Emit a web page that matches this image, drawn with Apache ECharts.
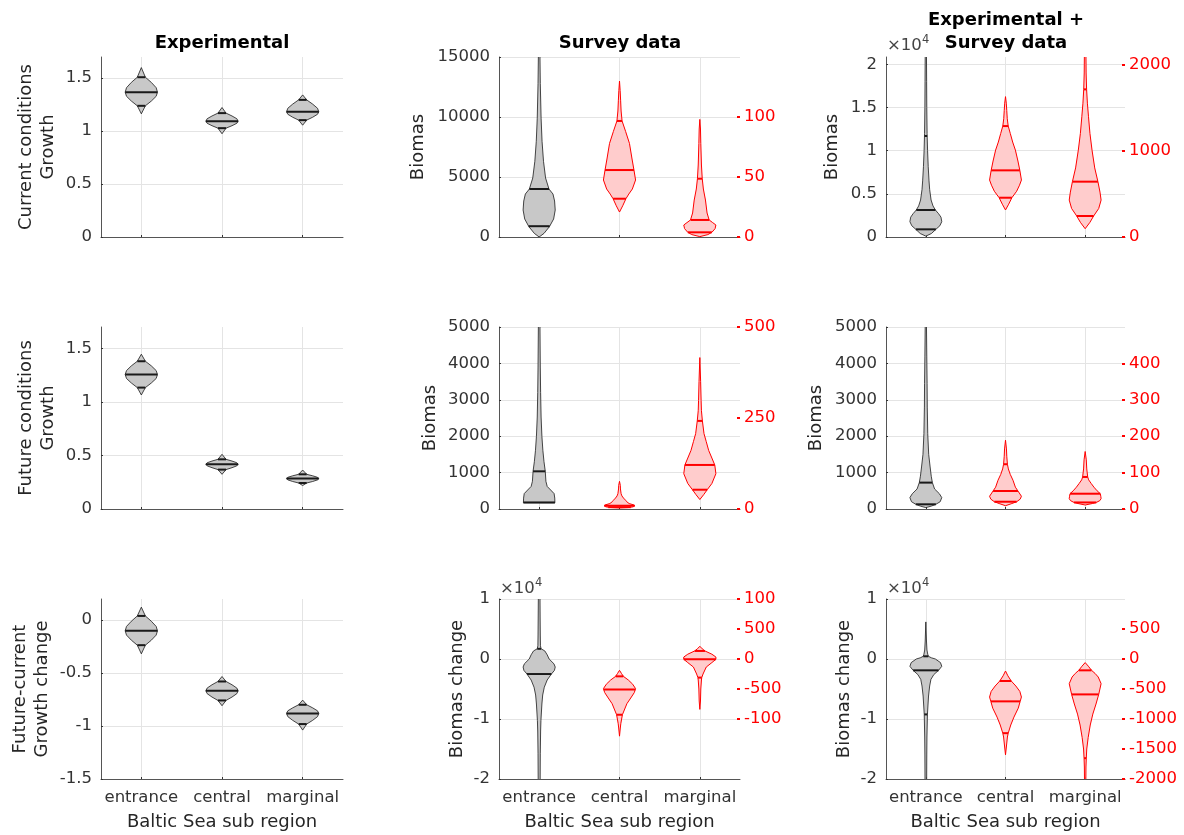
<!DOCTYPE html>
<html>
<head>
<meta charset="utf-8">
<script src="https://cdn.jsdelivr.net/npm/echarts@6/dist/echarts.min.js"></script>
<style>html,body{margin:0;padding:0;background:#fff}#c{width:1184px;height:835px}</style>
</head>
<body>
<div id="c"></div>
<script>
// ---------------- DATA ----------------
const categories = ['entrance', 'central', 'marginal'];
const catPos = [1, 2, 3];

// Violin profiles: [value, relative half-width]; lines: quantile / median lines
// Row 1 : Current conditions
const curExpProfiles = [
  [[1.163,0],[1.239,0.25],[1.284,0.62],[1.329,0.92],[1.368,1],[1.410,0.92],[1.460,0.62],[1.509,0.25],[1.60,0]],
  [[0.975,0],[1.028,0.25],[1.051,0.62],[1.074,0.92],[1.094,1],[1.117,0.92],[1.143,0.62],[1.17,0.25],[1.223,0]],
  [[1.056,0],[1.104,0.25],[1.131,0.62],[1.159,0.92],[1.182,1],[1.216,0.92],[1.255,0.62],[1.295,0.25],[1.342,0]]
];
const curExpLines = [[1.239,1.368,1.509],[1.028,1.094,1.17],[1.104,1.182,1.295]];

const curSurveyGrayProfiles = [
  [[0,0],[300,0.3],[861,0.64],[1500,0.9],[2250,1],[3000,0.96],[3583,0.86],[4000,0.61],[4917,0.4],[6306,0.27],[7972,0.18],[9900,0.12],[12800,0.07],[15000,0.05],[16000,0.04]]
];
const curSurveyGrayLines = [[900,4000]];
const curSurveyRedProfiles = [
  [[20.8,0],[26,0.2],[31.9,0.4],[35.8,0.58],[40,0.8],[47.5,1],[55.8,0.9],[65,0.78],[78,0.62],[88,0.38],[96.7,0.16],[105,0.1],[114,0.07],[122,0.04],[130,0]],
  [[0.3,0],[2,0.5],[3.9,0.75],[7,0.95],[10,1],[12,0.8],[14.2,0.58],[20,0.45],[30.8,0.35],[40,0.22],[48.6,0.15],[60,0.1],[78,0.06],[90,0.04],[98,0]]
];
const curSurveyRedLines = [[31.9,55.8,96.7],[3.9,14.2,48.6]];

const curCombGrayProfiles = [
  [[100,0],[400,0.35],[888,0.63],[1300,0.88],[1776,1],[2300,0.95],[2700,0.8],[3127,0.6],[3600,0.45],[4285,0.33],[5500,0.24],[6500,0.2],[8145,0.15],[10000,0.11],[12000,0.08],[15000,0.06],[18000,0.05],[21000,0.04]]
];
const curCombGrayLines = [[888,3127,11700]];
const curCombRedProfiles = [
  [[313,0],[380,0.2],[455,0.4],[530,0.7],[600,0.88],[660,1],[772,0.9],[880,0.78],[1007,0.62],[1100,0.45],[1200,0.3],[1285,0.17],[1370,0.11],[1464,0.08],[1550,0.05],[1626,0]],
  [[96,0],[170,0.3],[243,0.53],[330,0.85],[428,1],[520,0.93],[641,0.8],[800,0.6],[1007,0.43],[1200,0.3],[1393,0.21],[1550,0.14],[1710,0.09],[1900,0.06],[2100,0.05]]
];
const curCombRedLines = [[455,772,1285],[243,641,1710]];

// Row 2 : Future conditions
const futExpProfiles = [
  [[1.065,0],[1.134,0.25],[1.177,0.62],[1.219,0.92],[1.256,1],[1.293,0.92],[1.337,0.62],[1.38,0.25],[1.446,0]],
  [[0.324,0],[0.368,0.25],[0.386,0.62],[0.403,0.92],[0.418,1],[0.432,0.92],[0.448,0.62],[0.464,0.25],[0.511,0]],
  [[0.219,0],[0.243,0.25],[0.257,0.62],[0.272,0.92],[0.284,1],[0.296,0.92],[0.310,0.62],[0.324,0.25],[0.364,0]]
];
const futExpLines = [[1.134,1.256,1.38],[0.368,0.418,0.464],[0.243,0.284,0.324]];

const futSurveyGrayProfiles = [
  [[170,0.98],[300,0.97],[423,0.93],[520,0.72],[620,0.5],[760,0.42],[1035,0.38],[1300,0.3],[1612,0.23],[2000,0.17],[2527,0.12],[3200,0.09],[3900,0.07],[5000,0.05],[5500,0.04]]
];
const futSurveyGrayLines = [[180,1035]];
const futSurveyRedProfiles = [
  [[3,0],[4,0.55],[6,0.85],[9,0.95],[11,0.9],[15,0.6],[20,0.45],[24,0.38],[30,0.25],[36,0.15],[42,0.1],[55,0.06],[65,0.05],[76,0]],
  [[26,0],[40,0.25],[53,0.46],[70,0.75],[97,1],[121,0.93],[140,0.75],[161,0.55],[185,0.4],[207,0.26],[242,0.16],[270,0.1],[298,0.08],[350,0.05],[416,0]]
];
const futSurveyRedLines = [[5,9],[53,121,242]];

const futCombGrayProfiles = [
  [[38,0],[80,0.35],[129,0.63],[200,0.9],[313,1],[420,0.85],[550,0.55],[725,0.41],[900,0.34],[1154,0.27],[1500,0.18],[2070,0.12],[2800,0.09],[3443,0.08],[4200,0.06],[5000,0.04],[5500,0.03]]
];
const futCombGrayLines = [[129,725]];
const futCombRedProfiles = [
  [[9,0],[15,0.4],[20,0.7],[27,0.92],[35,1],[49.5,0.78],[60,0.62],[79,0.47],[95,0.3],[110,0.18],[123,0.12],[145,0.08],[165,0.06],[189,0]],
  [[11,0],[15,0.45],[18,0.7],[23,0.92],[28.5,1],[35,0.98],[42,0.95],[50,0.75],[60,0.55],[70,0.38],[80,0.22],[88,0.16],[110,0.1],[135,0.07],[158,0]]
];
const futCombRedLines = [[20,49.5,123],[18,42,88]];

// Row 3 : Future - current change
const chgExpProfiles = [
  [[-0.318,0],[-0.236,0.25],[-0.189,0.62],[-0.141,0.92],[-0.101,1],[-0.059,0.92],[-0.010,0.62],[0.04,0.25],[0.123,0]],
  [[-0.808,0],[-0.758,0.25],[-0.726,0.62],[-0.694,0.92],[-0.667,1],[-0.641,0.92],[-0.610,0.62],[-0.579,0.25],[-0.532,0]],
  [[-1.038,0],[-0.981,0.25],[-0.946,0.62],[-0.911,0.92],[-0.881,1],[-0.856,0.92],[-0.828,0.62],[-0.799,0.25],[-0.755,0]]
];
const chgExpLines = [[-0.236,-0.101,0.04],[-0.758,-0.667,-0.579],[-0.981,-0.881,-0.799]];

const chgSurveyGrayProfiles = [
  [[-21000,0.06],[-15800,0.07],[-12000,0.09],[-10250,0.11],[-7500,0.17],[-6000,0.22],[-4700,0.32],[-3500,0.5],[-2505,0.76],[-1900,0.95],[-1336,1],[-800,0.92],[0,0.62],[700,0.5],[1347,0.35],[1700,0.12],[2200,0.08],[4000,0.07],[7000,0.06],[11000,0.05]]
];
const chgSurveyGrayLines = [[-2505,1700]];
const chgSurveyRedProfiles = [
  [[-1286,0],[-1150,0.05],[-1080,0.08],[-929,0.18],[-850,0.3],[-745,0.46],[-650,0.7],[-560,0.92],[-494,1],[-420,0.82],[-350,0.55],[-289,0.24],[-240,0.12],[-189,0]],
  [[-840,0],[-700,0.04],[-500,0.06],[-350,0.1],[-310,0.12],[-250,0.2],[-134,0.4],[-60,0.75],[-5,1],[33,1],[80,0.75],[134,0.32],[170,0.15],[212,0]]
];
const chgSurveyRedLines = [[-929,-510,-289],[-310,-5,134]];

const chgCombGrayProfiles = [
  [[-21000,0.05],[-16000,0.06],[-13000,0.07],[-9235,0.1],[-6170,0.17],[-4500,0.24],[-3390,0.32],[-2600,0.5],[-1887,0.8],[-1219,1],[-600,0.92],[0,0.6],[200,0.35],[450,0.16],[800,0.12],[1500,0.07],[3000,0.04],[6180,0]]
];
const chgCombGrayLines = [[-9235,-1887,450]];
const chgCombRedProfiles = [
  [[-1597,0],[-1450,0.06],[-1300,0.12],[-1236,0.17],[-1100,0.33],[-968,0.53],[-820,0.8],[-706,0.92],[-634,1],[-540,0.9],[-450,0.65],[-367,0.36],[-280,0.15],[-200,0]],
  [[-2100,0.04],[-1800,0.05],[-1653,0.07],[-1500,0.1],[-1307,0.19],[-1100,0.32],[-918,0.48],[-750,0.68],[-590,0.85],[-411,1],[-300,0.82],[-240,0.62],[-189,0.4],[-120,0.2],[-60,0]]
];
const chgCombRedLines = [[-1236,-706,-367],[-1653,-590,-189]];

// Tick values
const growthTicks = [0, 0.5, 1, 1.5];
const changeTicks = [-1.5, -1, -0.5, 0];
const biomas15kTicks = [0, 5000, 10000, 15000];
const biomas2e4Ticks = [0, 5000, 10000, 15000, 20000];
const biomas5kTicks = [0, 1000, 2000, 3000, 4000, 5000];
const biomasChgTicks = [-20000, -10000, 0, 10000];
const rightTicksR1C2 = [0, 50, 100];
const rightTicksR1C3 = [0, 1000, 2000];
const rightTicksR2C2 = [0, 250, 500];
const rightTicksR2C3 = [0, 100, 200, 300, 400];
const rightTicksR3C2 = [-1000, -500, 0, 500, 1000];
const rightTicksR3C3 = [-2000, -1500, -1000, -500, 0, 500];

// ---------------- LAYOUT / STYLE ----------------
const FONT = 'DejaVu Sans';
const HALF = 0.2;
const colLeft = [101, 499, 886];
const colWidth = [242, 241, 239];
const rowTop = [57, 327, 599];
const rowHeight = [180, 182, 180];
const GRAY_FILL = '#c8c8c8', GRAY_STROKE = '#1a1a1a';
const RED_FILL = '#ffcccc', RED_STROKE = '#ff0000';
const TICK_COLOR = '#333333';
const GRID_COLOR = '#e4e4e4';

function interp(prof, v) {
  if (v <= prof[0][0]) return prof[0][1];
  for (let k = 1; k < prof.length; k++) {
    if (v <= prof[k][0]) {
      const [v0, w0] = prof[k - 1], [v1, w1] = prof[k];
      return w0 + (w1 - w0) * (v - v0) / (v1 - v0);
    }
  }
  return prof[prof.length - 1][1];
}

function violinSeries(gridIdx, yIdx, xs, profiles, lines, fill, stroke, outlineW) {
  return {
    type: 'custom', xAxisIndex: gridIdx, yAxisIndex: yIdx, clip: true, silent: true,
    data: xs.map((x, k) => [x, lines[k][Math.min(1, lines[k].length - 1)]]),
    renderItem: function (params, api) {
      const k = params.dataIndex;
      const x = api.value(0);
      const prof = profiles[k];
      const pts = [];
      for (let j = 0; j < prof.length; j++) pts.push(api.coord([x + prof[j][1] * HALF, prof[j][0]]));
      for (let j = prof.length - 1; j >= 0; j--) pts.push(api.coord([x - prof[j][1] * HALF, prof[j][0]]));
      const children = [{ type: 'polygon', shape: { points: pts }, style: { fill: fill, stroke: stroke, lineWidth: outlineW } }];
      lines[k].forEach(function (v) {
        const w = interp(prof, v) * HALF;
        const a = api.coord([x - w, v]), b = api.coord([x + w, v]);
        children.push({ type: 'line', shape: { x1: a[0], y1: a[1], x2: b[0], y2: b[1] }, style: { stroke: stroke, lineWidth: 2 } });
      });
      return { type: 'group', children: children };
    }
  };
}

const grids = [], xAxes = [], yAxes = [], series = [];
const yNames = [
  ['Current conditions\nGrowth', 'Biomas', 'Biomas'],
  ['Future conditions\nGrowth', 'Biomas', 'Biomas'],
  ['Future-current\nGrowth change', 'Biomas change', 'Biomas change']
];
const yNameGaps = [[42, 70, 43], [42, 58, 59], [48, 31, 31]];
const leftCfg = [
  [{ min: 0, max: 1.7, interval: 0.5, ticks: growthTicks }, { min: 0, max: 15000, interval: 5000, ticks: biomas15kTicks }, { min: 0, max: 20850, interval: 5000, ticks: biomas2e4Ticks, e4: true }],
  [{ min: 0, max: 1.7, interval: 0.5, ticks: growthTicks }, { min: 0, max: 5000, interval: 1000, ticks: biomas5kTicks }, { min: 0, max: 5000, interval: 1000, ticks: biomas5kTicks }],
  [{ min: -1.5, max: 0.2, interval: 0.5, ticks: changeTicks }, { min: -20000, max: 10000, interval: 10000, ticks: biomasChgTicks, e4: true }, { min: -20000, max: 10000, interval: 10000, ticks: biomasChgTicks, e4: true }]
];
const rightCfg = [
  [null, { min: 0, max: 150, ticks: rightTicksR1C2 }, { min: 0, max: 2085, ticks: rightTicksR1C3 }],
  [null, { min: 0, max: 500, ticks: rightTicksR2C2 }, { min: 0, max: 500, ticks: rightTicksR2C3 }],
  [null, { min: -2000, max: 1000, ticks: rightTicksR3C2, truncate: true }, { min: -2000, max: 1000, ticks: rightTicksR3C3 }]
];
const panelData = [
  [[curExpProfiles, curExpLines], [curSurveyGrayProfiles, curSurveyGrayLines, curSurveyRedProfiles, curSurveyRedLines], [curCombGrayProfiles, curCombGrayLines, curCombRedProfiles, curCombRedLines]],
  [[futExpProfiles, futExpLines], [futSurveyGrayProfiles, futSurveyGrayLines, futSurveyRedProfiles, futSurveyRedLines], [futCombGrayProfiles, futCombGrayLines, futCombRedProfiles, futCombRedLines]],
  [[chgExpProfiles, chgExpLines], [chgSurveyGrayProfiles, chgSurveyGrayLines, chgSurveyRedProfiles, chgSurveyRedLines], [chgCombGrayProfiles, chgCombGrayLines, chgCombRedProfiles, chgCombRedLines]]
];

for (let r = 0; r < 3; r++) {
  for (let c = 0; c < 3; c++) {
    const g = r * 3 + c;
    grids.push({ left: colLeft[c], top: rowTop[r], width: colWidth[c], height: rowHeight[r], outerBoundsMode: 'none', containLabel: false });
    xAxes.push({
      type: 'value', gridIndex: g, min: 0.5, max: 3.5,
      axisLine: { show: true, onZero: false, lineStyle: { color: '#555', width: 1 } },
      axisTick: { show: true, inside: true, length: 2, customValues: catPos, lineStyle: { color: TICK_COLOR } },
      axisLabel: { show: r === 2, customValues: catPos, formatter: v => categories[Math.round(v) - 1], fontSize: 16.5, fontFamily: FONT, color: TICK_COLOR, margin: 10 },
      splitLine: { show: true, lineStyle: { color: GRID_COLOR, width: 1 } },
      name: r === 2 ? 'Baltic Sea sub region' : '', nameLocation: 'middle', nameGap: 34,
      nameTextStyle: { fontSize: 18, fontFamily: FONT, color: '#262626' }
    });
    const L = leftCfg[r][c];
    yAxes.push({
      type: 'value', gridIndex: g, position: 'left', min: L.min, max: L.max, interval: L.interval,
      axisLine: { show: true, onZero: false, lineStyle: { color: '#555', width: 1 } },
      axisTick: { show: true, inside: true, length: 2, customValues: L.ticks, lineStyle: { color: TICK_COLOR } },
      axisLabel: { customValues: L.ticks, formatter: L.e4 ? (v => String(v / 10000)) : (v => String(v)), fontSize: 16.5, fontFamily: FONT, color: TICK_COLOR, margin: 9 },
      splitLine: { show: true, lineStyle: { color: GRID_COLOR, width: 1 } },
      name: yNames[r][c], nameLocation: 'middle', nameGap: yNameGaps[r][c],
      nameTextStyle: { fontSize: 18, fontFamily: FONT, color: '#262626', lineHeight: 22 }
    });
  }
}
for (let r = 0; r < 3; r++) {
  for (let c = 1; c < 3; c++) {
    const g = r * 3 + c;
    const R = rightCfg[r][c];
    const lab = { customValues: R.ticks, formatter: v => String(v), fontSize: 16.5, fontFamily: FONT, color: RED_STROKE, margin: 4 };
    if (R.truncate) { lab.width = 42; lab.overflow = 'truncate'; lab.ellipsis = ''; }
    yAxes.push({
      type: 'value', gridIndex: g, position: 'right', min: R.min, max: R.max,
      axisLine: { show: false, onZero: false },
      axisTick: { show: true, inside: true, length: 3, customValues: R.ticks, lineStyle: { color: RED_STROKE, width: 2 } },
      axisLabel: lab,
      splitLine: { show: false }
    });
  }
}

for (let r = 0; r < 3; r++) {
  for (let c = 0; c < 3; c++) {
    const g = r * 3 + c;
    const d = panelData[r][c];
    if (c === 0) {
      series.push(violinSeries(g, g, catPos, d[0], d[1], GRAY_FILL, GRAY_STROKE, 0.8));
    } else {
      const rIdx = 9 + r * 2 + (c - 1);
      series.push(violinSeries(g, g, [catPos[0]], d[0], d[1], GRAY_FILL, GRAY_STROKE, 0.8));
      series.push(violinSeries(g, rIdx, [catPos[1], catPos[2]], d[2], d[3], RED_FILL, RED_STROKE, 1));
    }
  }
}

const titleFont = 'bold 18px "' + FONT + '"';
const multFont = '16.5px "' + FONT + '"';
const supFont = '11.5px "' + FONT + '"';
const graphics = [
  { type: 'text', x: 222, y: 43, style: { text: 'Experimental', font: titleFont, fill: '#000', align: 'center', verticalAlign: 'middle' } },
  { type: 'text', x: 620, y: 43, style: { text: 'Survey data', font: titleFont, fill: '#000', align: 'center', verticalAlign: 'middle' } },
  { type: 'text', x: 1006, y: 20, style: { text: 'Experimental +', font: titleFont, fill: '#000', align: 'center', verticalAlign: 'middle' } },
  { type: 'text', x: 1006, y: 43, style: { text: 'Survey data', font: titleFont, fill: '#000', align: 'center', verticalAlign: 'middle' } },
  { type: 'text', x: 887, y: 46, style: { text: '×10', font: multFont, fill: '#444', align: 'left', verticalAlign: 'middle' } },
  { type: 'text', x: 922, y: 40, style: { text: '4', font: supFont, fill: '#444', align: 'left', verticalAlign: 'middle' } },
  { type: 'text', x: 500, y: 589, style: { text: '×10', font: multFont, fill: '#444', align: 'left', verticalAlign: 'middle' } },
  { type: 'text', x: 535, y: 583, style: { text: '4', font: supFont, fill: '#444', align: 'left', verticalAlign: 'middle' } },
  { type: 'text', x: 887, y: 589, style: { text: '×10', font: multFont, fill: '#444', align: 'left', verticalAlign: 'middle' } },
  { type: 'text', x: 922, y: 583, style: { text: '4', font: supFont, fill: '#444', align: 'left', verticalAlign: 'middle' } }
];

const chart = echarts.init(document.getElementById('c'), null, { renderer: 'canvas' });
chart.setOption({
  animation: false,
  backgroundColor: '#ffffff',
  textStyle: { fontFamily: FONT },
  grid: grids,
  xAxis: xAxes,
  yAxis: yAxes,
  series: series,
  graphic: graphics
});
</script>
</body>
</html>
